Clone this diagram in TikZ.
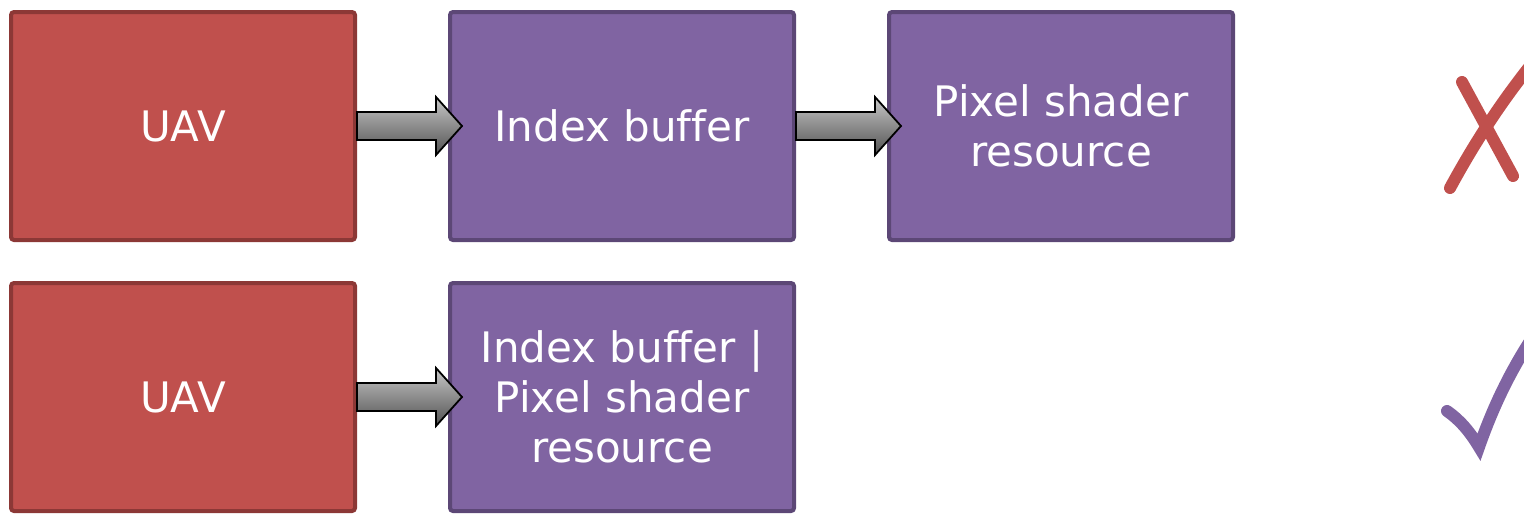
\documentclass[tikz,border=0pt]{standalone}
\usepackage{fontspec}
\setmainfont[Ligatures=NoCommon]{DejaVu Sans}
\usetikzlibrary{positioning, calc}

\definecolor{uavred}{HTML}{C0504D}
\definecolor{uavredline}{HTML}{8C3836}
\definecolor{bufpurple}{HTML}{8064A2}
\definecolor{bufpurpleline}{HTML}{5C4776}

\begin{document}
\begin{tikzpicture}[
    x=0.5pt, y=-0.5pt,
    node distance=135.5pt and 219.5pt,
    on grid,
    box/.style={rectangle, rounded corners=1.5pt, line width=2pt, minimum width=172pt, minimum height=114pt, text=white, font=\fontsize{21}{25}\selectfont, align=center},
    uav/.style={box, fill=uavred, draw=uavredline},
    res/.style={box, fill=bufpurple, draw=bufpurpleline},
    fatarrow/.style={draw=black, line width=0.9pt, top color=black!22, bottom color=black!68, line join=miter},
    tickmark/.style={line width=6pt, line cap=round}
]

   \useasboundingbox (0,0) rectangle (1524,515);

   % Resources
   \node[uav] (uav1) at (183,126) {UAV};
   \node[res] (idx1) [right=of uav1] {Index buffer};
   \node[res] (psr1) [right=of idx1] {Pixel shader\\resource};
   \node[uav] (uav2) [below=of uav1] {UAV};
   \node[res] (idx2) [right=of uav2] {Index buffer |\\Pixel shader\\resource};

   % Transitions
   \foreach \a/\b in {uav1/idx1, idx1/psr1, uav2/idx2} {
     \path[fatarrow] let \p1=(\a.east), \p2=(\b.west) in
       (\x1,\y1+7pt) -- (\x2-6pt,\y1+7pt) -- (\x2-6pt,\y1+14.5pt) -- (\x2+7pt,\y1)
       -- (\x2-6pt,\y1-14.5pt) -- (\x2-6pt,\y1-7pt) -- (\x1,\y1-7pt) -- cycle;
   }

   % Marks
   \draw[tickmark, uavred] (1462,82) -- (1513,176);
   \draw[tickmark, uavred] (1450,188) .. controls (1475,142) and (1500,104) .. (1530,66);
   \draw[tickmark, bufpurple] (1447,411) .. controls (1460,420) and (1470,432) .. (1479,447)
     .. controls (1492,410) and (1508,375) .. (1532,338);
\end{tikzpicture}
\end{document}
